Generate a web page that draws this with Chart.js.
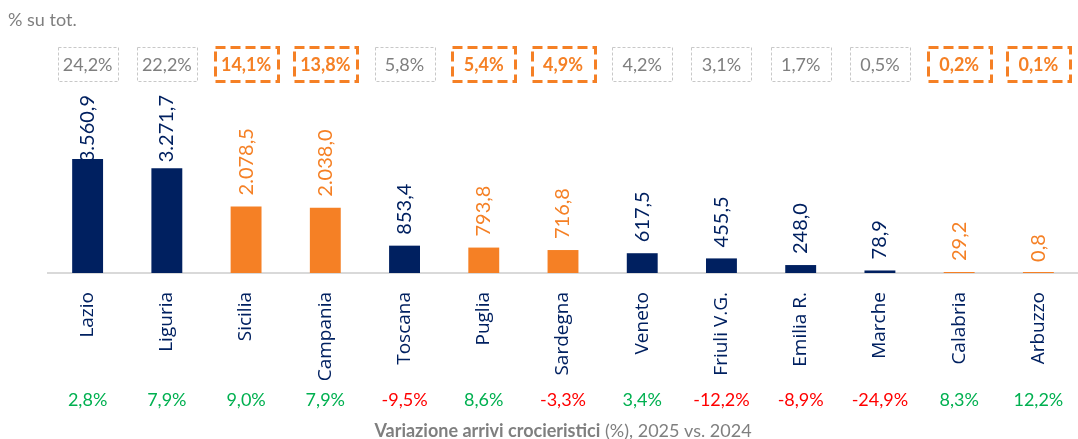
<!DOCTYPE html>
<html>
<head>
<meta charset="utf-8">
<script src="https://cdn.jsdelivr.net/npm/chart.js@4"></script>
<style>
  body { margin: 0; background: #fff; }
  #wrap { width: 1078px; height: 439px; position: relative; }
</style>
</head>
<body>
<div id="wrap"><canvas id="myChart"></canvas></div>
<script>
// data
const regions = ['Lazio', 'Liguria', 'Sicilia', 'Campania', 'Toscana', 'Puglia', 'Sardegna',
  'Veneto', 'Friuli V.G.', 'Emilia R.', 'Marche', 'Calabria', 'Arbuzzo'];
const arrivals = [3560.9, 3271.7, 2078.5, 2038.0, 853.4, 793.8, 716.8, 617.5, 455.5, 248.0, 78.9, 29.2, 0.8];
const shareOfTotal = [24.2, 22.2, 14.1, 13.8, 5.8, 5.4, 4.9, 4.2, 3.1, 1.7, 0.5, 0.2, 0.1];
const growth = [2.8, 7.9, 9.0, 7.9, -9.5, 8.6, -3.3, 3.4, -12.2, -8.9, -24.9, 8.3, 12.2];
const southRegions = ['Sicilia', 'Campania', 'Puglia', 'Sardegna', 'Calabria', 'Arbuzzo'];

const NAVY = '#002060', ORANGE = '#F58025', GREY = '#7f7f7f';
const FONT = 'Lato, "Open Sans", sans-serif';

// italian style number: 3.560,9
function fmt(v) {
  var parts = v.toFixed(1).split('.');
  var int = parts[0].replace(/\B(?=(\d{3})+(?!\d))/g, '.');
  return int + ',' + parts[1];
}
function isSouth(i) { return southRegions.indexOf(regions[i]) >= 0; }

const extras = {
  id: 'extras',
  afterDraw(chart) {
    var ctx = chart.ctx;
    var x = chart.scales.x, y = chart.scales.y;
    ctx.save();

    // top-left note
    ctx.font = '18px ' + FONT;
    ctx.fillStyle = GREY;
    ctx.textAlign = 'left';
    ctx.textBaseline = 'middle';
    ctx.fillText('% su tot.', 8, 20);

    regions.forEach(function(r, i) {
      var cx = x.getPixelForValue(i);
      var south = isSouth(i);

      // share boxes
      var bw = south ? 63 : 60, bh = 34, by = 64;
      ctx.setLineDash(south ? [10, 5] : [3, 2]);
      ctx.lineWidth = south ? 3 : 1;
      ctx.strokeStyle = south ? ORANGE : '#c8c8c8';
      ctx.strokeRect(Math.round(cx - bw / 2) + 0.5, by - bh / 2 + 0.5, bw, bh);
      ctx.setLineDash([]);
      ctx.font = (south ? 'bold ' : '') + '18px ' + FONT;
      ctx.fillStyle = south ? ORANGE : GREY;
      ctx.textAlign = 'center';
      ctx.textBaseline = 'middle';
      ctx.fillText(fmt(shareOfTotal[i]) + '%', cx, by + 1);

      // value labels, rotated
      var label = fmt(arrivals[i]);
      ctx.font = '20px ' + FONT;
      var w = ctx.measureText(label).width;
      var start = y.getPixelForValue(arrivals[i]) - 11;
      if (start - w < 95) start = 95 + w;
      ctx.save();
      ctx.translate(cx, start);
      ctx.rotate(-Math.PI / 2);
      ctx.fillStyle = south ? ORANGE : NAVY;
      ctx.textAlign = 'left';
      ctx.textBaseline = 'middle';
      ctx.fillText(label, 0, 0);
      ctx.restore();

      // growth row
      ctx.font = '18px ' + FONT;
      ctx.fillStyle = growth[i] < 0 ? '#FF0000' : '#00B050';
      ctx.textAlign = 'center';
      ctx.fillText(fmt(growth[i]) + '%', cx, 400);
    });

    // bottom title, bold part + normal part
    var t1 = 'Variazione arrivi crocieristici', t2 = ' (%), 2025 vs. 2024';
    ctx.font = 'bold 18px ' + FONT;
    var w1 = ctx.measureText(t1).width;
    ctx.font = '18px ' + FONT;
    var w2 = ctx.measureText(t2).width;
    var sx = 563 - (w1 + w2) / 2;
    ctx.fillStyle = GREY;
    ctx.textAlign = 'left';
    ctx.font = 'bold 18px ' + FONT;
    ctx.fillText(t1, sx, 431);
    ctx.font = '18px ' + FONT;
    ctx.fillText(t2, sx + w1, 431);

    ctx.restore();
  }
};

new Chart(document.getElementById('myChart'), {
  type: 'bar',
  data: {
    labels: regions,
    datasets: [{
      data: arrivals,
      backgroundColor: regions.map(function(r, i) { return isSouth(i) ? ORANGE : NAVY; }),
      barPercentage: 0.39,
      categoryPercentage: 1,
      minBarLength: 1
    }]
  },
  options: {
    responsive: true,
    maintainAspectRatio: false,
    animation: false,
    layout: { padding: { top: 100, left: 48, right: 0, bottom: 0 } },
    plugins: { legend: { display: false }, tooltip: { enabled: false } },
    scales: {
      x: {
        grid: { display: false },
        border: { display: true, color: '#d9d9d9', width: 2 },
        ticks: {
          color: NAVY,
          font: { family: '"Open Sans", sans-serif', size: 19 },
          minRotation: 90,
          maxRotation: 90,
          padding: 11
        },
        afterFit: function(s) { s.height = 166; }
      },
      y: {
        display: false,
        min: 0,
        max: 5400
      }
    }
  },
  plugins: [extras]
});
</script>
</body>
</html>
